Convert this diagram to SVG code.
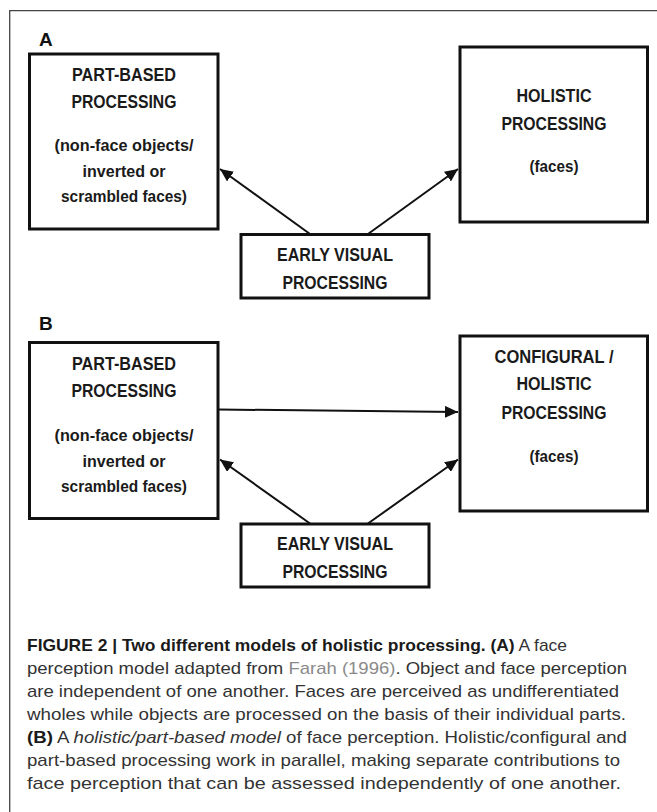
<svg xmlns="http://www.w3.org/2000/svg" width="657" height="812" viewBox="0 0 657 812">
<style>
.box{fill:#fff;stroke:#111;stroke-width:3}
.t{font-family:"Liberation Sans",Arial,sans-serif;font-weight:bold;font-size:17.5px;fill:#1a1a1a;text-anchor:middle}
.s{font-family:"Liberation Sans",Arial,sans-serif;font-weight:bold;font-size:17px;fill:#1a1a1a;text-anchor:middle}
.lbl{font-family:"Liberation Sans",Arial,sans-serif;font-weight:bold;font-size:19px;fill:#111}
.edge{stroke:#111;stroke-width:2;fill:none;marker-end:url(#ah)}
.cap{font-family:"Liberation Sans",Arial,sans-serif;font-size:17px;fill:#333}
.b{font-weight:bold;fill:#1a1a1a}
.g{fill:#8a8a8a}
.i{font-style:italic}
</style>
<defs>
<marker id="ah" markerUnits="userSpaceOnUse" markerWidth="14" markerHeight="12" refX="13" refY="6" orient="auto">
<path d="M0,0 L13,6 L0,12 Z" fill="#111"/>
</marker>
</defs>
<rect width="657" height="812" fill="#fff"/>
<path d="M9.7,812 V10.7 H657" fill="none" stroke="#444" stroke-width="1.3"/>

<text class="lbl" x="39" y="46">A</text>
<text class="lbl" x="39" y="330">B</text>

<g id="connectors">
<line class="edge" x1="310" y1="234" x2="220" y2="169"/>
<line class="edge" x1="368" y1="234" x2="458" y2="169"/>
<line class="edge" x1="219" y1="409.5" x2="458" y2="412"/>
<line class="edge" x1="310" y1="523.5" x2="220" y2="459.5"/>
<line class="edge" x1="368" y1="523.5" x2="458" y2="459.5"/>
</g>

<g id="a-part">
<rect class="box" x="29.5" y="54" width="188.5" height="175"/>
<text class="t" x="124" y="81" textLength="104" lengthAdjust="spacingAndGlyphs">PART-BASED</text>
<text class="t" x="124" y="108" textLength="105" lengthAdjust="spacingAndGlyphs">PROCESSING</text>
<text class="s" x="124" y="151" textLength="139" lengthAdjust="spacingAndGlyphs">(non-face objects/</text>
<text class="s" x="124" y="177" textLength="83" lengthAdjust="spacingAndGlyphs">inverted or</text>
<text class="s" x="124" y="202" textLength="126" lengthAdjust="spacingAndGlyphs">scrambled faces)</text>
</g>

<g id="a-holistic">
<rect class="box" x="460" y="47" width="187.5" height="175"/>
<text class="t" x="554" y="102" textLength="75" lengthAdjust="spacingAndGlyphs">HOLISTIC</text>
<text class="t" x="554" y="130" textLength="105" lengthAdjust="spacingAndGlyphs">PROCESSING</text>
<text class="s" x="554" y="172" textLength="49" lengthAdjust="spacingAndGlyphs">(faces)</text>
</g>

<g id="a-early">
<rect class="box" x="241" y="234.5" width="188" height="63.5"/>
<text class="t" x="335" y="261" textLength="116" lengthAdjust="spacingAndGlyphs">EARLY VISUAL</text>
<text class="t" x="335" y="289" textLength="105" lengthAdjust="spacingAndGlyphs">PROCESSING</text>
</g>

<g id="b-part">
<rect class="box" x="29.5" y="342.5" width="188.5" height="176"/>
<text class="t" x="124" y="369.5" textLength="104" lengthAdjust="spacingAndGlyphs">PART-BASED</text>
<text class="t" x="124" y="397" textLength="105" lengthAdjust="spacingAndGlyphs">PROCESSING</text>
<text class="s" x="124" y="440.5" textLength="139" lengthAdjust="spacingAndGlyphs">(non-face objects/</text>
<text class="s" x="124" y="466.5" textLength="83" lengthAdjust="spacingAndGlyphs">inverted or</text>
<text class="s" x="124" y="491.5" textLength="126" lengthAdjust="spacingAndGlyphs">scrambled faces)</text>
</g>

<g id="b-configural">
<rect class="box" x="460" y="336" width="187.5" height="175"/>
<text class="t" x="554" y="362.5" textLength="119" lengthAdjust="spacingAndGlyphs">CONFIGURAL /</text>
<text class="t" x="554" y="390" textLength="75" lengthAdjust="spacingAndGlyphs">HOLISTIC</text>
<text class="t" x="554" y="418.5" textLength="105" lengthAdjust="spacingAndGlyphs">PROCESSING</text>
<text class="s" x="554" y="462" textLength="49" lengthAdjust="spacingAndGlyphs">(faces)</text>
</g>

<g id="b-early">
<rect class="box" x="241" y="524" width="188" height="63"/>
<text class="t" x="335" y="550" textLength="116" lengthAdjust="spacingAndGlyphs">EARLY VISUAL</text>
<text class="t" x="335" y="578" textLength="105" lengthAdjust="spacingAndGlyphs">PROCESSING</text>
</g>

<g id="caption">
<text class="cap" x="27" y="651" textLength="540" lengthAdjust="spacingAndGlyphs"><tspan class="b">FIGURE 2 | Two different models of holistic processing. (A)</tspan> A face</text>
<text class="cap" x="27" y="674" textLength="600" lengthAdjust="spacingAndGlyphs">perception model adapted from <tspan class="g">Farah (1996)</tspan>. Object and face perception</text>
<text class="cap" x="27" y="697" textLength="592" lengthAdjust="spacingAndGlyphs">are independent of one another. Faces are perceived as undifferentiated</text>
<text class="cap" x="27" y="720" textLength="599" lengthAdjust="spacingAndGlyphs">wholes while objects are processed on the basis of their individual parts.</text>
<text class="cap" x="27" y="743" textLength="600" lengthAdjust="spacingAndGlyphs"><tspan class="b">(B)</tspan> A <tspan class="i">holistic/part-based model</tspan> of face perception. Holistic/configural and</text>
<text class="cap" x="27" y="766" textLength="593" lengthAdjust="spacingAndGlyphs">part-based processing work in parallel, making separate contributions to</text>
<text class="cap" x="27" y="789" textLength="594" lengthAdjust="spacingAndGlyphs">face perception that can be assessed independently of one another.</text>
</g>
</svg>
